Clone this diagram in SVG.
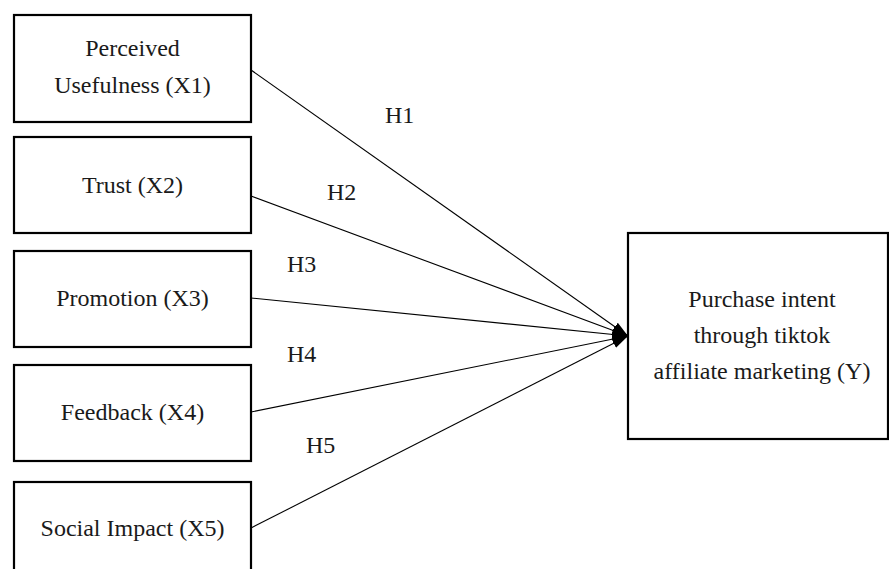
<svg xmlns="http://www.w3.org/2000/svg" width="889" height="569" viewBox="0 0 889 569">
<style>
.box{fill:#fff;stroke:#000;stroke-width:2.2}
.t{font-family:"Liberation Serif","Times New Roman",serif;font-size:24px;fill:#1a1a1a;text-anchor:middle}
.h{font-family:"Liberation Serif","Times New Roman",serif;font-size:24px;fill:#1a1a1a}
.c{stroke:#000;stroke-width:1.1;fill:none;marker-end:url(#ah)}
</style>
<defs>
<marker id="ah" markerUnits="userSpaceOnUse" markerWidth="20" markerHeight="14" refX="16" refY="6" orient="auto">
<path d="M0,1 L16,6 L0,11 Z" fill="#000"/>
</marker>
</defs>
<rect width="889" height="569" fill="#fff"/>
<g id="connectors">
<line class="c" x1="251" y1="70" x2="628" y2="336"/>
<line class="c" x1="251" y1="196" x2="628" y2="336"/>
<line class="c" x1="251" y1="298" x2="628" y2="336"/>
<line class="c" x1="251" y1="412" x2="628" y2="336"/>
<line class="c" x1="251" y1="528" x2="628" y2="336"/>
</g>
<g id="labels">
<text class="h" x="385" y="123">H1</text>
<text class="h" x="327" y="200">H2</text>
<text class="h" x="287" y="272">H3</text>
<text class="h" x="287" y="362">H4</text>
<text class="h" x="306" y="453">H5</text>
</g>
<g id="x1">
<rect class="box" x="14" y="15" width="237" height="107"/>
<text class="t" x="132.5" y="56">Perceived</text>
<text class="t" x="132.5" y="93">Usefulness (X1)</text>
</g>
<g id="x2">
<rect class="box" x="14" y="137" width="237" height="96"/>
<text class="t" x="132.5" y="193">Trust (X2)</text>
</g>
<g id="x3">
<rect class="box" x="14" y="251" width="237" height="96"/>
<text class="t" x="132.5" y="306">Promotion (X3)</text>
</g>
<g id="x4">
<rect class="box" x="14" y="365" width="237" height="96"/>
<text class="t" x="132.5" y="420">Feedback (X4)</text>
</g>
<g id="x5">
<rect class="box" x="14" y="482" width="237" height="100"/>
<text class="t" x="132.5" y="536">Social Impact (X5)</text>
</g>
<g id="y">
<rect class="box" x="628" y="233" width="260" height="206"/>
<text class="t" x="762" y="307">Purchase intent</text>
<text class="t" x="762" y="343">through tiktok</text>
<text class="t" x="762" y="379">affiliate marketing (Y)</text>
</g>
</svg>
